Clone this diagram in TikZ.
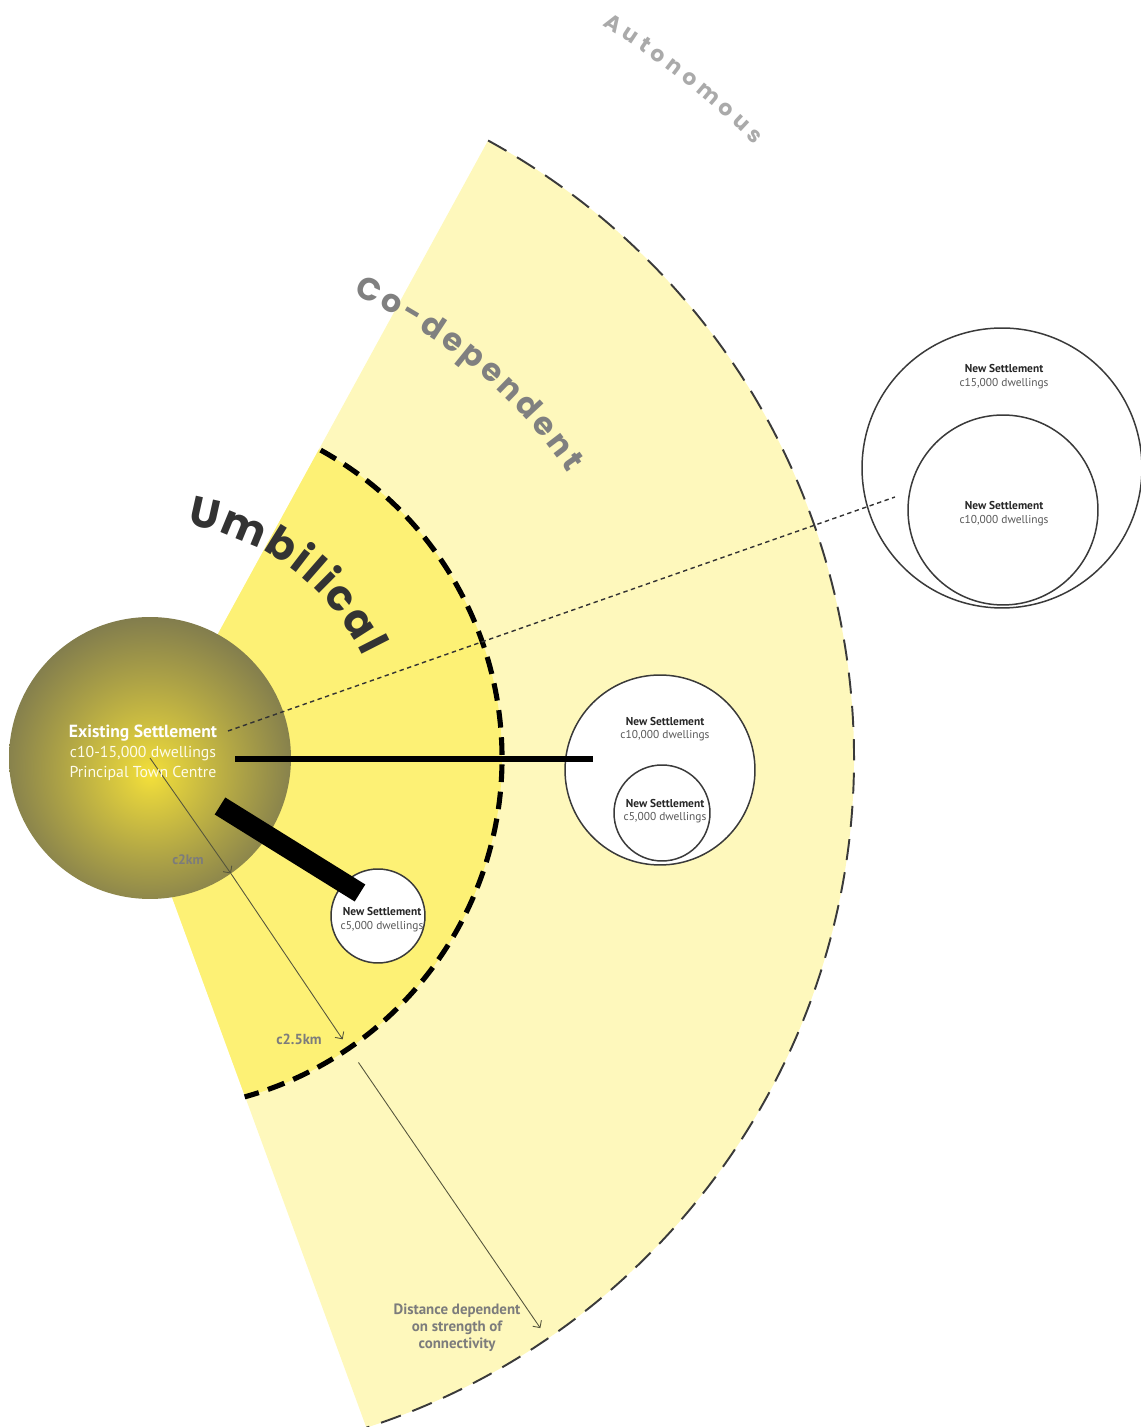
\documentclass[tikz,border=0pt]{standalone}
\usepackage{fontspec}
\setmainfont{PT Sans}
\newfontfamily\geofont{Poppins}
\usetikzlibrary{arrows.meta,decorations.text,calc}

\definecolor{fanpale}{HTML}{FEF8BC}
\definecolor{umbyellow}{HTML}{FDF175}
\definecolor{settleolive}{HTML}{737050}
\definecolor{settleglow}{HTML}{F4E03A}
\definecolor{arcgray}{HTML}{3A3A3A}
\definecolor{codepgray}{HTML}{808080}
\definecolor{autogray}{HTML}{AAAAAA}
\definecolor{umbtext}{HTML}{333333}
\definecolor{kmgray}{HTML}{7C7C7C}
\definecolor{arrowgray}{HTML}{55553C}

\pgfdeclareradialshading{settleshade}{\pgfpoint{0bp}{-3bp}}{color(0bp)=(settleglow); color(4bp)=(settleglow!85!settleolive); color(16bp)=(settleglow!45!settleolive); color(30bp)=(settleolive); color(50bp)=(settleolive)}

\newcommand\umbfont{\geofont\fontsize{24}{24}\selectfont\bfseries}
\newcommand\codepfont{\geofont\fontsize{18}{18}\selectfont\bfseries}
\newcommand\autofont{\geofont\fontsize{12.5}{12.5}\selectfont\bfseries}

\tikzset{
	settle/.style={circle, minimum size=5.64cm, inner sep=0pt, outer sep=0pt, shading=settleshade},
	newtown/.style={circle, draw=arcgray, line width=0.85pt, fill=white, inner sep=0pt, outer sep=0pt}
}
\tikzset{
	towntext/.style={align=center, inner sep=0pt, text=black!65, font=\fontsize{6.5}{7.8}\selectfont},
	kmtext/.style={inner sep=0pt, text=kmgray, font=\fontsize{8.3}{9}\selectfont\bfseries},
	gaparrow/.style={draw=arrowgray, line width=0.5pt, -{Straight Barb[length=3pt,width=6pt]}}
}
\tikzset{
	outerdash/.style={draw=arcgray, line width=1.1pt, dash pattern=on 12pt off 7pt},
	umbdash/.style={draw=black, line width=2.9pt, dash pattern=on 10pt off 5.5pt},
	linkbar/.style={draw=black, line width=3.4pt},
	fatbar/.style={draw=black, line width=11.4pt},
	dotlink/.style={draw=black!80, line width=0.8pt, dash pattern=on 2.5pt off 2pt}
}

\begin{document}
\begin{tikzpicture}[x=0.02cm,y=0.02cm]
\useasboundingbox (0,0) rectangle (1141,1427);
\coordinate (hub) at (150,669);

%Faecher
\fill[fanpale] (hub) -- ++(61.3:704) arc[start angle=61.3, end angle=-72.1, radius=14.08cm] -- (121,669) -- cycle;
\begin{scope}
\clip (hub) -- ++(61.3:704) arc[start angle=61.3, end angle=-72.1, radius=14.08cm] -- (121,669) -- cycle;
\fill[umbyellow] (hub) circle[radius=7.04cm];
\end{scope}
\draw[outerdash] (hub) ++(61.3:704) arc[start angle=61.3, end angle=-72.1, radius=14.08cm];
\draw[umbdash] (hub) ++(61:352) arc[start angle=61, end angle=-74.4, radius=7.04cm];

%Ringtexte
\path[decorate, decoration={text along path, text={|\umbfont|Umbilical}, text align={fit to path}, text color=umbtext}]
 (hub) ++(81:236) arc[start angle=81, end angle=25.5, radius=4.72cm];
\path[decorate, decoration={text along path, text={|\codepfont|Co-dependent}, text align={fit to path}, text color=codepgray}]
 (hub) ++(66.3:506) arc[start angle=66.3, end angle=34.3, radius=10.12cm];
\path[decorate, decoration={text along path, text={|\autofont|Autonomous}, text align={fit to path}, text color=autogray}]
 (hub) ++(58.3:861) arc[start angle=58.3, end angle=45.4, radius=17.22cm];

%Siedlungen
\node[settle] (exist) at (hub) {};

\draw[gaparrow] (exist.center) -- (exist.-55.6);
\draw[gaparrow] (exist.-55.6) -- ($(hub)+(-55.6:341)$);
\draw[gaparrow] ($(hub)+(-55.6:369)$) -- ($(hub)+(-55.6:691)$);

\node[newtown, minimum size=1.88cm] (ns5) at (378,511) {};
\node[newtown, minimum size=3.8cm] (ns10) at (660,657) {};
\node[newtown, minimum size=1.92cm] (ns10b) at (662,614) {};
\node[newtown, minimum size=5.6cm] (ns15) at (1002,959) {};
\node[newtown, minimum size=3.8cm] (ns15b) at (1003,917) {};

\coordinate (dotA) at (228,696);
\coordinate (dotB) at (895,930);
\draw[dotlink] (dotA) -- (dotB);

\coordinate (barA) at (220,621);
\coordinate (barB) at (360,534);
\coordinate (linkA) at (235,668);
\coordinate (linkB) at (593,668);
\draw[fatbar] (barA) -- (barB);
\draw[linkbar] (linkA) -- (linkB);

%Beschriftung
\node[align=center, inner sep=0pt, text=white!90!settleglow, font=\fontsize{9}{11.4}\selectfont] (existtxt) at (143,674)
 {{\fontsize{10}{11.4}\selectfont\bfseries\color{white}Existing Settlement}\\c10-15,000 dwellings\\Principal Town Centre};
\node[towntext] (ns5txt) at (382,507.5) {{\bfseries\color{black!85}New Settlement}\\c5,000 dwellings};
\node[towntext] (ns10txt) at (665,698) {{\bfseries\color{black!85}New Settlement}\\c10,000 dwellings};
\node[towntext] (ns10btxt) at (665,616) {{\bfseries\color{black!85}New Settlement}\\c5,000 dwellings};
\node[towntext] (ns15txt) at (1004,1050.5) {{\bfseries\color{black!85}New Settlement}\\c15,000 dwellings};
\node[towntext] (ns15btxt) at (1004,913.5) {{\bfseries\color{black!85}New Settlement}\\c10,000 dwellings};

\node[kmtext, font=\fontsize{7.8}{8}\selectfont\bfseries] (km2) at (188,567) {c2km};
\node[kmtext] (km25) at (299,388) {c2.5km};
\node[kmtext, align=center, font=\fontsize{8.5}{9.7}\selectfont\bfseries] (distance) at (457,99)
 {Distance dependent\\on strength of\\connectivity};
\end{tikzpicture}
\end{document}
